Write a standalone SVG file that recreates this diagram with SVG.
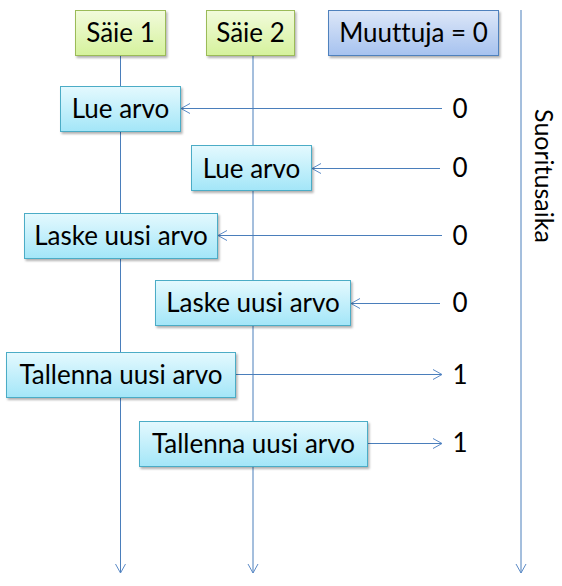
<svg xmlns="http://www.w3.org/2000/svg" width="562" height="586" viewBox="0 0 562 586">
<defs>
<linearGradient id="gGreen" x1="0" y1="0" x2="0" y2="1"><stop offset="0" stop-color="#f2fbdc"/><stop offset="1" stop-color="#d5f29c"/></linearGradient>
<linearGradient id="gBlue" x1="0" y1="0" x2="0" y2="1"><stop offset="0" stop-color="#dde7f8"/><stop offset="1" stop-color="#a6c2ef"/></linearGradient>
<linearGradient id="gCyan" x1="0" y1="0" x2="0" y2="1"><stop offset="0" stop-color="#e4f9fe"/><stop offset="1" stop-color="#a3e6f8"/></linearGradient>
<filter id="sh" x="-10%" y="-20%" width="130%" height="160%"><feDropShadow dx="1.5" dy="2" stdDeviation="1.2" flood-color="#000" flood-opacity="0.3"/></filter>
<marker id="ah" markerWidth="12" markerHeight="12" refX="10" refY="6" orient="auto" markerUnits="userSpaceOnUse"><path d="M1,1 L10,6 L1,11" fill="none" stroke="#5b8ac6" stroke-width="1"/></marker>
</defs>
<style>
.t{font-family:Lato,"Open Sans",sans-serif;font-size:26px;fill:#000;text-anchor:middle;font-variant-ligatures:none}
.s{font-size:25px}
.g{fill:url(#gGreen);stroke:#9bbb59;stroke-width:1;filter:url(#sh)}
.b{fill:url(#gBlue);stroke:#4f81bd;stroke-width:1;filter:url(#sh)}
.c{fill:url(#gCyan);stroke:#4bacc6;stroke-width:1;filter:url(#sh)}
.a{stroke:#4a7ebb;stroke-width:1;fill:none;marker-end:url(#ah)}
</style>
<g id="connectors">
<path class="a" d="M120.5,55 V573"/>
<path class="a" d="M253,55 V573"/>
<path class="a" d="M521,10 V573"/>
<path class="a" d="M442,108.5 H181"/>
<path class="a" d="M440,168.5 H312"/>
<path class="a" d="M442,235.5 H218"/>
<path class="a" d="M440,303.5 H351"/>
<path class="a" d="M235,374.5 H442"/>
<path class="a" d="M367,443.5 H442"/>
</g>
<g id="saie1"><rect class="g" x="75.5" y="10.5" width="90" height="45"/><text class="t" x="120.5" y="42">Säie 1</text></g>
<g id="saie2"><rect class="g" x="206.5" y="10.5" width="88" height="45"/><text class="t" x="250.5" y="42">Säie 2</text></g>
<g id="muuttuja"><rect class="b" x="328.5" y="10.5" width="170" height="45"/><text class="t" x="413.5" y="42">Muuttuja = 0</text></g>
<g id="lue1"><rect class="c" x="60.5" y="86.5" width="120" height="45"/><text class="t" x="120.5" y="117.5">Lue arvo</text></g>
<g id="lue2"><rect class="c" x="191.5" y="145.5" width="120" height="45"/><text class="t" x="251.5" y="177.5">Lue arvo</text></g>
<g id="laske1"><rect class="c" x="24.5" y="213.5" width="193" height="45"/><text class="t" x="121" y="245">Laske uusi arvo</text></g>
<g id="laske2"><rect class="c" x="155.5" y="280.5" width="195" height="45"/><text class="t" x="253" y="312">Laske uusi arvo</text></g>
<g id="tallenna1"><rect class="c" x="6.5" y="352.5" width="229" height="45"/><text class="t" x="121" y="384">Tallenna uusi arvo</text></g>
<g id="tallenna2"><rect class="c" x="139.5" y="421.5" width="228" height="45"/><text class="t" x="253.5" y="453">Tallenna uusi arvo</text></g>
<g id="values">
<text class="t" x="460" y="117.5">0</text>
<text class="t" x="460" y="177">0</text>
<text class="t" x="460" y="245">0</text>
<text class="t" x="460" y="312">0</text>
<text class="t" x="460" y="384">1</text>
<text class="t" x="460" y="452">1</text>
</g>
<text class="t s" transform="translate(535,176) rotate(90)">Suoritusaika</text>
</svg>
